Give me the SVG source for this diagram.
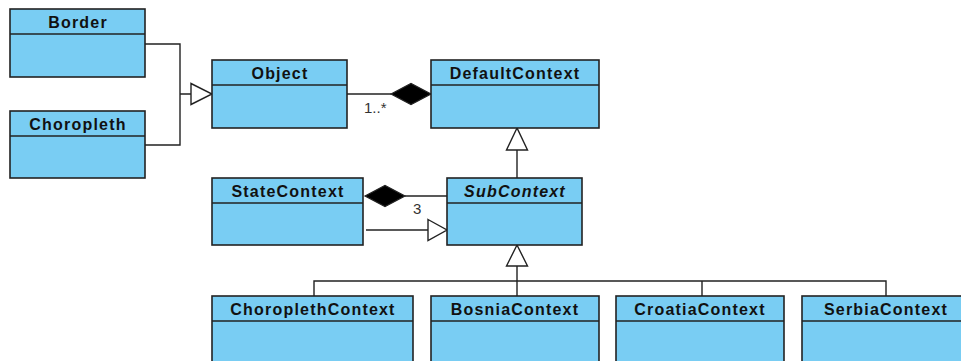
<svg xmlns="http://www.w3.org/2000/svg" width="961" height="361" viewBox="0 0 961 361">
  <style>
    .box { fill: #79cdf3; stroke: #222; stroke-width: 1.6; }
    .div { stroke: #222; stroke-width: 1.6; }
    .name { font-family: "Liberation Sans", Arial, sans-serif; font-size: 16px; font-weight: bold; fill: #111; text-anchor: middle; letter-spacing: 1.2px; }
    .abstract { font-style: italic; }
    .line { fill: none; stroke: #222; stroke-width: 1.4; }
    .hollow { fill: #fff; stroke: #222; stroke-width: 1.4; }
    .solid { fill: #000; stroke: #222; stroke-width: 1.2; }
    .mult { font-family: "Liberation Sans", Arial, sans-serif; font-size: 15px; fill: #333; }
  </style>
  <rect width="961" height="361" fill="#fff"/>

  <g id="connectors">
    <!-- Border / Choropleth generalise Object -->
    <path class="line" d="M145,44 H180 V145 H145 M180,94 H191"/>
    <polygon class="hollow" points="191,83.5 212,94 191,104.5"/>
    <!-- Object composed into DefaultContext -->
    <path class="line" d="M347,94 H391"/>
    <polygon class="solid" points="391,94 411,83.5 431,94 411,104.5"/>
    <text class="mult" x="364" y="113">1..*</text>
    <!-- SubContext generalises DefaultContext -->
    <path class="line" d="M517,150 V178"/>
    <polygon class="hollow" points="517,128 506.5,150 527.5,150"/>
    <!-- SubContext composed into StateContext -->
    <polygon class="solid" points="365,196 385,185.5 405,196 385,206.5"/>
    <path class="line" d="M405,196 H447"/>
    <text class="mult" x="413" y="214">3</text>
    <!-- StateContext generalises SubContext -->
    <path class="line" d="M366,230 H428"/>
    <polygon class="hollow" points="428,219.5 447,230 428,240.5"/>
    <!-- concrete contexts generalise SubContext -->
    <polygon class="hollow" points="517,245 506.5,266 527.5,266"/>
    <path class="line" d="M517,266 V296 M314,296 V281 H886 V296 M702,281 V296"/>
  </g>

  <g id="Border">
    <rect class="box" x="10" y="9" width="135" height="68"/>
    <line class="div" x1="10" y1="34" x2="145" y2="34"/>
    <text class="name" x="78" y="28">Border</text>
  </g>
  <g id="Choropleth">
    <rect class="box" x="10" y="111" width="135" height="67"/>
    <line class="div" x1="10" y1="136" x2="145" y2="136"/>
    <text class="name" x="78" y="130">Choropleth</text>
  </g>
  <g id="Object">
    <rect class="box" x="212" y="60" width="135" height="68"/>
    <line class="div" x1="212" y1="85" x2="347" y2="85"/>
    <text class="name" x="280" y="79">Object</text>
  </g>
  <g id="DefaultContext">
    <rect class="box" x="431" y="60" width="168" height="68"/>
    <line class="div" x1="431" y1="85" x2="599" y2="85"/>
    <text class="name" x="515" y="79">DefaultContext</text>
  </g>
  <g id="StateContext">
    <rect class="box" x="212" y="178" width="151" height="67"/>
    <line class="div" x1="212" y1="203" x2="363" y2="203"/>
    <text class="name" x="288" y="197">StateContext</text>
  </g>
  <g id="SubContext">
    <rect class="box" x="447" y="178" width="135" height="67"/>
    <line class="div" x1="447" y1="203" x2="582" y2="203"/>
    <text class="name abstract" x="515" y="197">SubContext</text>
  </g>
  <g id="ChoroplethContext">
    <rect class="box" x="212" y="296" width="201" height="80"/>
    <line class="div" x1="212" y1="321" x2="413" y2="321"/>
    <text class="name" x="313" y="315">ChoroplethContext</text>
  </g>
  <g id="BosniaContext">
    <rect class="box" x="431" y="296" width="168" height="80"/>
    <line class="div" x1="431" y1="321" x2="599" y2="321"/>
    <text class="name" x="515" y="315">BosniaContext</text>
  </g>
  <g id="CroatiaContext">
    <rect class="box" x="616" y="296" width="168" height="80"/>
    <line class="div" x1="616" y1="321" x2="784" y2="321"/>
    <text class="name" x="700" y="315">CroatiaContext</text>
  </g>
  <g id="SerbiaContext">
    <rect class="box" x="802" y="296" width="168" height="80"/>
    <line class="div" x1="802" y1="321" x2="970" y2="321"/>
    <text class="name" x="886" y="315">SerbiaContext</text>
  </g>
</svg>
